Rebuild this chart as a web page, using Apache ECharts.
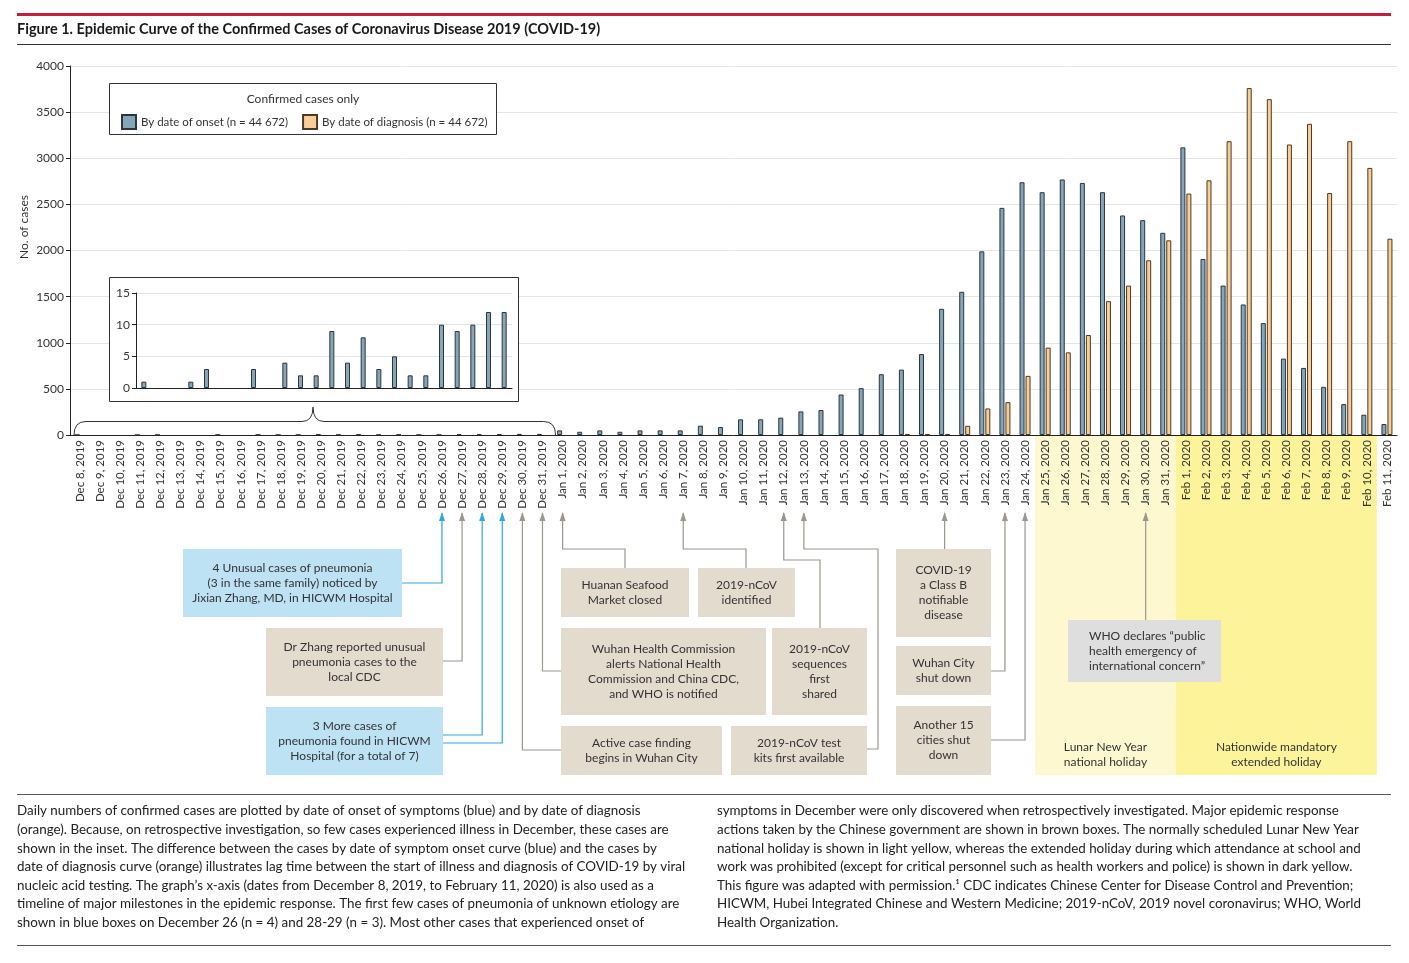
<!DOCTYPE html>
<html><head><meta charset="utf-8">
<script src="https://cdn.jsdelivr.net/npm/echarts@6/dist/echarts.min.js"></script>
<style>html,body{margin:0;padding:0;background:#fff}#main{width:1409px;height:963px}</style>
</head><body><div id="main"></div>
<script>
const dates = ["Dec 8, 2019","Dec 9, 2019","Dec 10, 2019","Dec 11, 2019","Dec 12, 2019","Dec 13, 2019","Dec 14, 2019","Dec 15, 2019","Dec 16, 2019","Dec 17, 2019","Dec 18, 2019","Dec 19, 2019","Dec 20, 2019","Dec 21, 2019","Dec 22, 2019","Dec 23, 2019","Dec 24, 2019","Dec 25, 2019","Dec 26, 2019","Dec 27, 2019","Dec 28, 2019","Dec 29, 2019","Dec 30, 2019","Dec 31, 2019",
"Jan 1, 2020","Jan 2, 2020","Jan 3, 2020","Jan 4, 2020","Jan 5, 2020","Jan 6, 2020","Jan 7, 2020","Jan 8, 2020","Jan 9, 2020","Jan 10, 2020","Jan 11, 2020","Jan 12, 2020","Jan 13, 2020","Jan 14, 2020","Jan 15, 2020","Jan 16, 2020","Jan 17, 2020","Jan 18, 2020","Jan 19, 2020","Jan 20, 2020","Jan 21, 2020","Jan 22, 2020","Jan 23, 2020","Jan 24, 2020","Jan 25, 2020","Jan 26, 2020","Jan 27, 2020","Jan 28, 2020","Jan 29, 2020","Jan 30, 2020","Jan 31, 2020",
"Feb 1, 2020","Feb 2, 2020","Feb 3, 2020","Feb 4, 2020","Feb 5, 2020","Feb 6, 2020","Feb 7, 2020","Feb 8, 2020","Feb 9, 2020","Feb 10, 2020","Feb 11, 2020"];
const onset = [1,0,0,1,3,0,0,3,0,4,2,2,9,4,8,3,5,2,2,10,9,10,12,12,
50,35,50,35,50,50,50,101,87,170,170,188,256,271,
439,508,659,709,878,1368,1552,1991,2462,2740,2632,2770,2732,2632,2380,2329,2192,
3118,1908,1620,1415,1213,828,727,522,335,220,119];
const diagnosis = [0,0,0,0,0,0,0,0,0,0,0,0,0,0,0,0,0,0,0,0,0,0,0,0,
0,0,0,0,0,0,0,0,0,0,0,0,0,0,0,0,0,8,8,8,
100,288,356,641,947,896,1084,1451,1620,1894,2110,
2617,2761,3185,3761,3641,3149,3373,2623,3185,2895,2128];
const insetDates = dates.slice(0, 24);
const insetOnset = onset.slice(0, 24);
const seriesNames = ["By date of onset (n = 44 672)", "By date of diagnosis (n = 44 672)"];
const legendTitle = "Confirmed cases only";
const titleText = "Figure 1. Epidemic Curve of the Confirmed Cases of Coronavirus Disease 2019 (COVID-19)";
const yAxisTitle = "No. of cases";

const annotations = [
  {text:"4 Unusual cases of pneumonia\n(3 in the same family) noticed by\nJixian Zhang, MD, in HICWM Hospital", targets:["Dec 26, 2019"]},
  {text:"Dr Zhang reported unusual\npneumonia cases to the\nlocal CDC", targets:["Dec 27, 2019"]},
  {text:"3 More cases of\npneumonia found in HICWM\nHospital (for a total of 7)", targets:["Dec 28, 2019","Dec 29, 2019"]},
  {text:"Huanan Seafood\nMarket closed", targets:["Jan 1, 2020"]},
  {text:"2019-nCoV\nidentified", targets:["Jan 7, 2020"]},
  {text:"Wuhan Health Commission\nalerts National Health\nCommission and China CDC,\nand WHO is notified", targets:["Dec 31, 2019"]},
  {text:"2019-nCoV\nsequences\nfirst\nshared", targets:["Jan 12, 2020"]},
  {text:"Active case finding\nbegins in Wuhan City", targets:["Dec 30, 2019"]},
  {text:"2019-nCoV test\nkits first available", targets:["Jan 13, 2020"]},
  {text:"COVID-19\na Class B\nnotifiable\ndisease", targets:["Jan 20, 2020"]},
  {text:"Wuhan City\nshut down", targets:["Jan 23, 2020"]},
  {text:"Another 15\ncities shut\ndown", targets:["Jan 24, 2020"]},
  {text:"WHO declares \u201cpublic\nhealth emergency of\ninternational concern\u201d", targets:["Jan 30, 2020"]}
];
const holidays = [
  {text:"Lunar New Year\nnational holiday", from:"Jan 25, 2020", to:"Jan 31, 2020"},
  {text:"Nationwide mandatory\nextended holiday", from:"Feb 1, 2020", to:"Feb 10, 2020"}
];
const captionLeft = [
"Daily numbers of confirmed cases are plotted by date of onset of symptoms (blue) and by date of diagnosis",
"(orange). Because, on retrospective investigation, so few cases experienced illness in December, these cases are",
"shown in the inset. The difference between the cases by date of symptom onset curve (blue) and the cases by",
"date of diagnosis curve (orange) illustrates lag time between the start of illness and diagnosis of COVID-19 by viral",
"nucleic acid testing. The graph\u2019s x-axis (dates from December 8, 2019, to February 11, 2020) is also used as a",
"timeline of major milestones in the epidemic response. The first few cases of pneumonia of unknown etiology are",
"shown in blue boxes on December 26 (n = 4) and 28-29 (n = 3). Most other cases that experienced onset of"];
const captionRight = [
"symptoms in December were only discovered when retrospectively investigated. Major epidemic response",
"actions taken by the Chinese government are shown in brown boxes. The normally scheduled Lunar New Year",
"national holiday is shown in light yellow, whereas the extended holiday during which attendance at school and",
"work was prohibited (except for critical personnel such as health workers and police) is shown in dark yellow.",
"This figure was adapted with permission.\u00b9 CDC indicates Chinese Center for Disease Control and Prevention;",
"HICWM, Hubei Integrated Chinese and Western Medicine; 2019-nCoV, 2019 novel coronavirus; WHO, World",
"Health Organization."];

const FONT = 'Lato, "Open Sans", sans-serif';
const BLUE = '#86a5b6', BLUE_B = '#2b3640', ORANGE = '#f8cd97', ORANGE_B = '#4b3a25';
const nz = arr => arr.map(v => v === 0 ? null : v);

const chart = echarts.init(document.getElementById('main'), null, {renderer:'canvas'});
const option = {
  animation:false,
  backgroundColor:'#fff',
  textStyle:{fontFamily:FONT},
  legend:{left:116, top:109, itemWidth:14, itemHeight:14, itemGap:14, icon:'rect', selectedMode:false, z:10,
    data:seriesNames, textStyle:{fontSize:11.5, color:'#333', fontFamily:FONT}},
  grid:[{left:70, top:66, width:1327, height:369},
        {left:136, top:293, width:376, height:95}],
  xAxis:[
    {type:'category', gridIndex:0, data:dates, axisLine:{lineStyle:{color:'#222', width:1}}, axisTick:{show:false},
     axisLabel:{rotate:90, interval:0, fontSize:11.5, color:'#333', margin:5, fontFamily:FONT}},
    {type:'category', gridIndex:1, data:insetDates, z:6, axisLine:{lineStyle:{color:'#222'}}, axisTick:{show:false}, axisLabel:{show:false}}
  ],
  yAxis:[
    {type:'value', gridIndex:0, min:0, max:4000, interval:500, axisLine:{show:true, lineStyle:{color:'#222'}},
     axisTick:{show:true, length:4, lineStyle:{color:'#222'}}, axisLabel:{fontSize:12, color:'#333', margin:6, fontFamily:FONT, formatter:v => String(v)},
     splitLine:{lineStyle:{color:'#e4e4e4'}}},
    {type:'value', gridIndex:1, min:0, max:15, interval:5, z:6, axisLine:{show:true, lineStyle:{color:'#222'}},
     axisTick:{show:true, length:4, lineStyle:{color:'#222'}}, axisLabel:{fontSize:12, color:'#333', margin:6, fontFamily:FONT},
     splitLine:{lineStyle:{color:'#e4e4e4'}}}
  ],
  series:[
    {name:seriesNames[0], type:'bar', xAxisIndex:0, yAxisIndex:0, data:nz(onset), barWidth:5, barGap:'20%',
     itemStyle:{color:BLUE, borderColor:BLUE_B, borderWidth:1}},
    {name:seriesNames[1], type:'bar', xAxisIndex:0, yAxisIndex:0, data:nz(diagnosis), barWidth:5,
     itemStyle:{color:ORANGE, borderColor:ORANGE_B, borderWidth:1}},
    {name:'inset', type:'bar', xAxisIndex:1, yAxisIndex:1, data:nz(insetOnset), barWidth:5, z:7,
     itemStyle:{color:BLUE, borderColor:BLUE_B, borderWidth:1}}
  ]
};
chart.setOption(option);

const X = name => chart.convertToPixel({xAxisIndex:0}, dates.indexOf(name));
const half = (X(dates[1]) - X(dates[0])) / 2;
const TIP = 513;

const layout = [
  {x:183,y:549,w:219,h:68, fill:'#bde2f4', line:'#2ea9dc', paths:[tx=>[[402,583],[tx[0],583],[tx[0],TIP]]]},
  {x:266,y:628,w:177,h:68, fill:'#e4dbcf', line:'#9c968c', paths:[tx=>[[443,661],[tx[0],661],[tx[0],TIP]]]},
  {x:266,y:707,w:177,h:68, fill:'#bde2f4', line:'#2ea9dc', paths:[tx=>[[443,735],[tx[0],735],[tx[0],TIP]], tx=>[[443,743],[tx[1],743],[tx[1],TIP]]]},
  {x:561,y:568,w:128,h:49, fill:'#e4dbcf', line:'#9c968c', paths:[tx=>[[625,568],[625,549],[tx[0],549],[tx[0],TIP]]]},
  {x:698,y:568,w:97,h:49, fill:'#e4dbcf', line:'#9c968c', paths:[tx=>[[746,568],[746,549],[tx[0],549],[tx[0],TIP]]]},
  {x:561,y:628,w:205,h:87, fill:'#e4dbcf', line:'#9c968c', paths:[tx=>[[561,671],[tx[0],671],[tx[0],TIP]]]},
  {x:772,y:628,w:95,h:87, fill:'#e4dbcf', line:'#9c968c', paths:[tx=>[[820,628],[820,560],[tx[0],560],[tx[0],TIP]]]},
  {x:561,y:726,w:161,h:49, fill:'#e4dbcf', line:'#9c968c', paths:[tx=>[[561,750],[tx[0],750],[tx[0],TIP]]]},
  {x:731,y:726,w:136,h:49, fill:'#e4dbcf', line:'#9c968c', paths:[tx=>[[867,749],[878,749],[878,549],[tx[0],549],[tx[0],TIP]]]},
  {x:896,y:549,w:95,h:88, fill:'#e4dbcf', line:'#9c968c', paths:[tx=>[[tx[0],549],[tx[0],TIP]]]},
  {x:896,y:646,w:95,h:49, fill:'#e4dbcf', line:'#9c968c', paths:[tx=>[[991,671],[tx[0],671],[tx[0],TIP]]]},
  {x:896,y:706,w:95,h:69, fill:'#e4dbcf', line:'#9c968c', paths:[tx=>[[991,740],[tx[0],740],[tx[0],TIP]]]},
  {x:1068,y:620,w:153,h:62, fill:'#dedede', line:'#9c968c', leftText:1089, paths:[tx=>[[tx[0],620],[tx[0],TIP]]]}
];

const g = [];
g.push({type:'rect', shape:{x:17,y:13,width:1374,height:3}, style:{fill:'#c41e3a'}, silent:true});
g.push({type:'text', x:17, y:29, style:{text:titleText, fill:'#1a1a1a', font:'bold 14.5px '+FONT, verticalAlign:'middle', align:'left'}});
g.push({type:'rect', shape:{x:17,y:44,width:1374,height:1}, style:{fill:'#333'}});
g.push({type:'text', x:24, y:227, rotation:Math.PI/2, style:{text:yAxisTitle, fill:'#333', font:'12px '+FONT, align:'center', verticalAlign:'middle'}});
g.push({type:'rect', z:3, shape:{x:109.5,y:83.5,width:387,height:51}, style:{fill:'#fff', stroke:'#333', lineWidth:1}});
g.push({type:'text', z:4, x:303, y:99, style:{text:legendTitle, fill:'#333', font:'12px '+FONT, align:'center', verticalAlign:'middle'}});
g.push({type:'rect', z:3, shape:{x:109.5,y:277.5,width:409,height:124}, style:{fill:'#fff', stroke:'#333', lineWidth:1}});
// brace
const bL = X(dates[0]) - half + 4, bR = X(dates[23]) + half + 3, bC = 313, bY = 421.5;
const braceStyle = {fill:null, stroke:'#333', lineWidth:1};
g.push({type:'bezierCurve', z:4, shape:{x1:bL, y1:435, x2:bL+12, y2:bY, cpx1:bL, cpy1:bY}, style:braceStyle});
g.push({type:'line', z:4, shape:{x1:bL+12, y1:bY, x2:bC-11, y2:bY}, style:braceStyle});
g.push({type:'bezierCurve', z:4, shape:{x1:bC-11, y1:bY, x2:bC, y2:407, cpx1:bC, cpy1:bY}, style:braceStyle});
g.push({type:'bezierCurve', z:4, shape:{x1:bC, y1:407, x2:bC+11, y2:bY, cpx1:bC, cpy1:bY}, style:braceStyle});
g.push({type:'line', z:4, shape:{x1:bC+11, y1:bY, x2:bR-12, y2:bY}, style:braceStyle});
g.push({type:'bezierCurve', z:4, shape:{x1:bR-12, y1:bY, x2:bR, y2:435, cpx1:bR, cpy1:bY}, style:braceStyle});
// holiday bands
const bandFill = ['#fdf8cf', '#fcf39b'];
holidays.forEach((h, i) => {
  const x0 = X(h.from) - half, x1 = X(h.to) + half;
  g.push({type:'rect', z:-1, shape:{x:x0, y:436, width:x1-x0, height:339}, style:{fill:bandFill[i]}});
  g.push({type:'text', z:5, x:(x0+x1)/2, y:755, style:{text:h.text, fill:'#333', font:'12px '+FONT, align:'center', verticalAlign:'middle', lineHeight:15}});
});
// annotations
annotations.forEach((a, i) => {
  const L = layout[i];
  const tx = a.targets.map(X);
  L.paths.forEach((fn, k) => {
    g.push({type:'polyline', z:5, shape:{points:fn(tx)}, style:{stroke:L.line, lineWidth:1.2, fill:null}});
    const t = tx[k];
    g.push({type:'polygon', z:5, shape:{points:[[t-3,TIP+8],[t+3,TIP+8],[t,TIP-1]]}, style:{fill:L.line}});
  });
  g.push({type:'rect', z:5, shape:{x:L.x, y:L.y, width:L.w, height:L.h}, style:{fill:L.fill}});
  g.push({type:'text', z:6, x:L.leftText ? L.leftText : L.x+L.w/2, y:L.y+L.h/2,
    style:{text:a.text, fill:'#333', font:'12px '+FONT, align:L.leftText ? 'left' : 'center', verticalAlign:'middle', lineHeight:15}});
});
// caption
g.push({type:'rect', shape:{x:17,y:794,width:1374,height:1}, style:{fill:'#555'}});
g.push({type:'rect', shape:{x:17,y:945,width:1374,height:1}, style:{fill:'#555'}});
captionLeft.forEach((t, i) => g.push({type:'text', x:17, y:811 + i*18.6, style:{text:t, fill:'#222', font:'13.4px '+FONT, verticalAlign:'middle'}}));
captionRight.forEach((t, i) => g.push({type:'text', x:717, y:811 + i*18.6, style:{text:t, fill:'#222', font:'13.4px '+FONT, verticalAlign:'middle'}}));

chart.setOption({graphic:g});
</script></body></html>
